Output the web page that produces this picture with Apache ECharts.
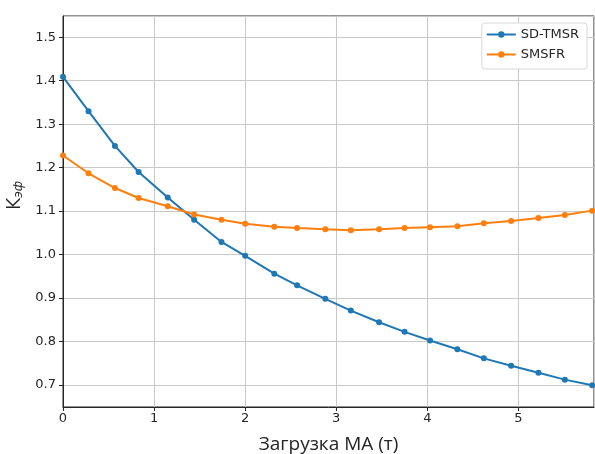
<!DOCTYPE html>
<html><head><meta charset="utf-8">
<script src="https://cdn.jsdelivr.net/npm/echarts@6/dist/echarts.min.js"></script>
<style>html,body{margin:0;padding:0;background:#fff}#c{width:595px;height:454px}</style>
</head><body><div id="c"></div>
<script>
var xLoad = [0, 0.28, 0.57, 0.83, 1.15, 1.44, 1.74, 2.0, 2.32, 2.57, 2.88, 3.16, 3.47, 3.75, 4.03, 4.33, 4.62, 4.92, 5.22, 5.51, 5.81];
var sdTmsr = [1.409, 1.330, 1.250, 1.190, 1.131, 1.080, 1.029, 0.997, 0.956, 0.929, 0.898, 0.871, 0.844, 0.822, 0.802, 0.782, 0.761, 0.744, 0.728, 0.712, 0.699];
var smsfr = [1.228, 1.187, 1.153, 1.130, 1.111, 1.092, 1.080, 1.071, 1.064, 1.061, 1.058, 1.056, 1.058, 1.061, 1.063, 1.065, 1.072, 1.077, 1.084, 1.091, 1.101];
var seriesNames = ['SD-TMSR', 'SMSFR'];
var colors = ['#1f77b4', '#ff7f0e'];

function pairs(xs, ys){ return xs.map(function(x,i){return [x, ys[i]];}); }
var font = 'DejaVu Sans';
var chart = echarts.init(document.getElementById('c'), null, {renderer:'canvas'});
chart.setOption({
  animation:false,
  backgroundColor:'#fff',
  color: colors,
  grid:{left:63, right:1, top:16, bottom:47, containLabel:false, outerBoundsMode:'none',
        show:true, borderColor:'#262626', borderWidth:1, backgroundColor:'transparent'},
  legend:{
    right:8, top:23, orient:'vertical', align:'left',
    data: seriesNames,
    itemWidth:29, itemHeight:8, itemGap:7,
    backgroundColor:'#fff', borderColor:'#d8d8d8', borderWidth:1, borderRadius:3,
    padding:[5,8,8,4],
    textStyle:{fontFamily:font, fontSize:13, color:'#262626'}
  },
  xAxis:{
    type:'value', min:0, max:5.83, minInterval:1, maxInterval:1,
    name:'Загрузка МА (т)', nameLocation:'middle', nameGap:28,
    nameTextStyle:{fontFamily:'Open Sans', fontSize:19, color:'#262626'},
    axisLine:{show:true, onZero:false, lineStyle:{color:'#262626'}},
    axisTick:{show:true, length:4, lineStyle:{color:'#262626'}},
    axisLabel:{fontFamily:font, fontSize:13, color:'#262626', margin:5, showMaxLabel:false},
    splitLine:{show:true, lineStyle:{color:'#c8c8c8', width:1}}
  },
  yAxis:{
    type:'value', min:0.649, max:1.549, minInterval:0.1, maxInterval:0.1,
    name:'{a|К}{b|эф}', nameLocation:'middle', nameGap:37, nameRotate:90,
    nameTextStyle:{fontFamily:font, color:'#262626', padding:[0,0,0,32],
      rich:{a:{fontFamily:'Open Sans', fontSize:20, color:'#262626'}, b:{fontFamily:font, fontSize:12, fontStyle:'italic', color:'#262626', padding:[9,0,0,0]}}},
    axisLine:{show:true, onZero:false, lineStyle:{color:'#262626'}},
    axisTick:{show:true, length:4, lineStyle:{color:'#262626'}},
    axisLabel:{fontFamily:font, fontSize:13, color:'#262626', margin:7, showMinLabel:false, showMaxLabel:false,
      formatter:function(v){return v.toFixed(1);}},
    splitLine:{show:true, lineStyle:{color:'#c8c8c8', width:1}}
  },
  series:[
    {name:seriesNames[0], type:'line', data:pairs(xLoad, sdTmsr), symbol:'circle', symbolSize:6, showSymbol:true,
     lineStyle:{width:2, color:colors[0]}, itemStyle:{color:colors[0]}},
    {name:seriesNames[1], type:'line', data:pairs(xLoad, smsfr), symbol:'circle', symbolSize:6, showSymbol:true,
     lineStyle:{width:2, color:colors[1]}, itemStyle:{color:colors[1]}}
  ]
});
</script>
</body></html>
